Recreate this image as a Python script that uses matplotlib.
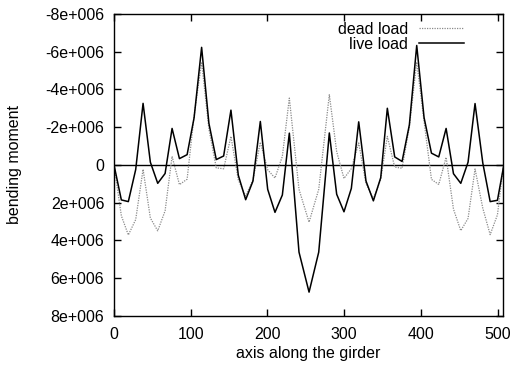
import matplotlib
matplotlib.use("Agg")
import matplotlib.pyplot as plt

########## Data ##########
x_pos = [0, 9.6, 18.7, 28.3, 37.9, 47.4, 57.0, 66.6, 75.7, 85.3, 95.3, 104.4,
         114.2, 123.7, 133.3, 142.9, 152.4, 162.0, 171.6, 181.1, 190.7, 200.3,
         209.8, 219.4, 228.5, 241.1, 254.2, 266.8, 280.6, 290.2, 299.7, 309.3,
         318.9, 328.4, 338.0, 347.6, 356.2, 365.8, 375.4, 384.9, 394.5, 404.1,
         413.7, 423.2, 432.8, 442.4, 451.9, 461.4, 470.5, 480.6, 490.2, 499.7,
         507.4]

# bending moment, units of 1e6
live_load = [0.0, 1.86, 1.95, 0.25, -3.26, -0.14, 0.98, 0.46, -1.93, -0.33,
             -0.54, -2.5, -6.23, -2.2, -0.28, -0.47, -2.9, 0.55, 1.85, 0.86,
             -2.3, 1.3, 2.52, 1.6, -1.68, 4.63, 6.75, 4.63, -1.69, 1.56, 2.49,
             1.25, -2.28, 0.86, 1.91, 0.68, -3.0, -0.42, -0.18, -2.12, -6.33,
             -2.5, -0.62, -0.42, -1.93, 0.47, 0.98, -0.14, -3.25, -0.1, 1.95,
             1.88, 0.15]

dead_load = [0.0, 2.7, 3.72, 2.9, 0.24, 2.82, 3.5, 2.44, -0.45, 1.05, 0.76,
             -2.6, -5.45, -1.9, 0.16, 0.21, -1.51, 0.8, 1.65, 0.8, -1.2, 0.26,
             0.7, -0.45, -3.54, 1.3, 3.04, 1.3, -3.72, -0.7, 0.72, 0.2, -1.16,
             1.0, 1.8, 0.77, -1.51, 0.12, 0.18, -2.0, -5.45, -2.3, 0.77, 1.04,
             -0.4, 2.35, 3.49, 2.84, 0.22, 2.3, 3.7, 2.65, 0.05]

x_ticks = [0, 100, 200, 300, 400, 500]
y_ticks = [-8e6, -6e6, -4e6, -2e6, 0, 2e6, 4e6, 6e6, 8e6]
y_tick_labels = ["-8e+006", "-6e+006", "-4e+006", "-2e+006", "0",
                 "2e+006", "4e+006", "6e+006", "8e+006"]

########## Plot ##########
plt.rcParams['font.family'] = ['Liberation Sans', 'DejaVu Sans']
plt.rcParams['font.size'] = 11.5

fig = plt.figure(figsize=(5.2, 3.67), dpi=100)
ax = fig.add_axes([0.2192, 0.1398, 0.968 - 0.2192, 0.9619 - 0.1398])

dead = [v * 1e6 for v in dead_load]
live = [v * 1e6 for v in live_load]

ax.axhline(0, color="black", linewidth=1.0)
ax.plot(x_pos, dead, color="#8a8a8a", linestyle=(0, (1, 1)), linewidth=0.9,
        label="dead load")
ax.plot(x_pos, live, color="black", linewidth=1.1, label="live load")

ax.set_xlim(0, 507.4)
ax.set_ylim(8e6, -8e6)
ax.set_xticks(x_ticks)
ax.set_yticks(y_ticks)
ax.set_yticklabels(y_tick_labels)
ax.tick_params(direction="in", length=5, width=1, top=True, right=True)
ax.tick_params(axis="x", pad=8)
ax.tick_params(axis="y", pad=7)
for s in ax.spines.values():
    s.set_linewidth(1.0)

ax.set_xlabel("axis along the girder", labelpad=3)
ax.set_ylabel("bending moment", labelpad=17)

ax.legend(loc="upper right", bbox_to_anchor=(0.902, 0.98), frameon=False,
          markerfirst=False, handlelength=2.8, handletextpad=0.67,
          labelspacing=0.0, borderpad=0.1, borderaxespad=0.0)

fig.savefig("out.png", dpi=100)
